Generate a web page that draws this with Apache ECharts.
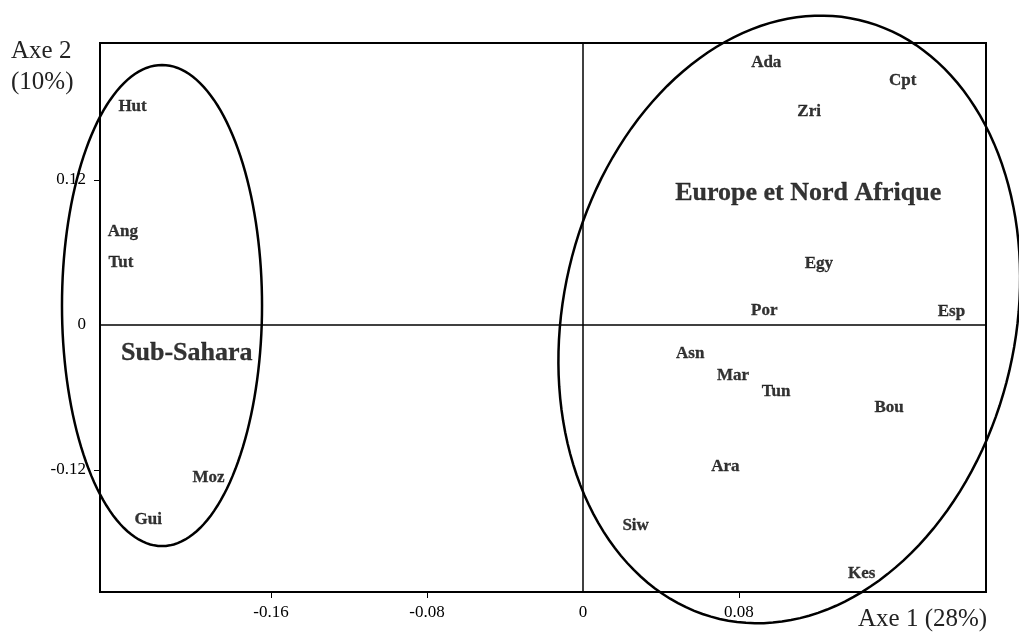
<!DOCTYPE html>
<html>
<head>
<meta charset="utf-8">
<script src="https://cdn.jsdelivr.net/npm/echarts@6/dist/echarts.min.js"></script>
<style>
  html, body { margin: 0; padding: 0; background: #fff; }
  #chart { width: 1019px; height: 634px; }
</style>
</head>
<body>
<div id="chart"></div>
<script>
// populations, coordinates on axes 1 and 2
var sites = ['Hut', 'Ang', 'Tut', 'Moz', 'Gui', 'Ada', 'Cpt', 'Zri', 'Egy', 'Por', 'Esp',
             'Asn', 'Mar', 'Tun', 'Bou', 'Ara', 'Siw', 'Kes'];
var axe1 = [-0.231, -0.236, -0.237, -0.192, -0.223, 0.094, 0.164, 0.116, 0.121, 0.093, 0.189,
            0.055, 0.077, 0.099, 0.157, 0.073, 0.027, 0.143];
var axe2 = [0.181, 0.077, 0.052, -0.126, -0.161, 0.217, 0.202, 0.177, 0.051, 0.012, 0.011,
            -0.024, -0.042, -0.055, -0.068, -0.117, -0.166, -0.206];

// group names
var groups = ['Europe et Nord Afrique', 'Sub-Sahara'];
var groupX = [0.1155, -0.2032];
var groupY = [0.109, -0.0234];

// group ellipses: centre x, centre y, half width, half height (data units), tilt (deg)
var ellCx = [-0.2159, 0.1058];
var ellCy = [0.0161, 0.0046];
var ellRx = [0.0513, 0.1159];
var ellRy = [0.1991, 0.2545];
var ellTilt = [0, 13.1];

var xTicks = [-0.16, -0.08, 0.08];
var xLabels = [-0.16, -0.08, 0, 0.08];
var yTicks = [-0.12, 0.12];
var yLabels = [-0.12, 0, 0.12];

var serif = "'Liberation Serif', 'DejaVu Serif', serif";

var chart = echarts.init(document.getElementById('chart'));

var points = sites.map(function (s, i) { return [axe1[i], axe2[i], s]; });
var groupPts = groups.map(function (g, i) { return [groupX[i], groupY[i], g]; });
var ellipses = ellCx.map(function (c, i) { return [c, ellCy[i], ellRx[i], ellRy[i], ellTilt[i]]; });

function fmt(v) { return v === 0 ? '0' : v.toFixed(2); }

var option = {
  backgroundColor: '#fff',
  animation: false,
  grid: {
    left: 100, right: 33, top: 43, bottom: 42,
    show: true, borderColor: '#000', borderWidth: 2, backgroundColor: 'transparent'
  },
  xAxis: {
    type: 'value', min: -0.2477, max: 0.2067,
    splitLine: { show: false },
    axisLine: { show: false, onZero: false },
    axisTick: { show: true, customValues: xTicks, length: 6, lineStyle: { color: '#000', width: 1 } },
    axisLabel: { customValues: xLabels, margin: 12, color: '#000', fontFamily: serif, fontSize: 17, formatter: fmt }
  },
  yAxis: {
    type: 'value', min: -0.221, max: 0.2334,
    splitLine: { show: false },
    axisLine: { show: false, onZero: false },
    axisTick: { show: true, customValues: yTicks, length: 6, lineStyle: { color: '#000', width: 1 } },
    axisLabel: { customValues: yLabels, margin: 14, color: '#000', fontFamily: serif, fontSize: 17, formatter: fmt }
  },
  graphic: [
    { type: 'text', left: 11, top: 36,
      style: { text: 'Axe 2\n(10%)', fontFamily: serif, fontSize: 25, lineHeight: 31, fill: '#222', align: 'center' } },
    { type: 'text', left: 858, top: 607,
      style: { text: 'Axe 1 (28%)', fontFamily: serif, fontSize: 25, fill: '#222' } }
  ],
  series: [
    {
      type: 'scatter',
      data: points,
      symbolSize: 1,
      itemStyle: { color: 'rgba(0,0,0,0)' },
      label: {
        show: true, position: 'inside', color: '#000',
        fontFamily: serif, fontWeight: 'bold', fontSize: 17,
        textBorderColor: '#000', textBorderWidth: 0.3,
        formatter: function (p) { return p.data[2]; }
      },
      markLine: {
        silent: true, symbol: 'none',
        label: { show: false },
        lineStyle: { color: '#000', width: 1.5, type: 'solid' },
        data: [{ xAxis: 0 }, { yAxis: 0 }]
      }
    },
    {
      type: 'scatter',
      data: groupPts,
      symbolSize: 1,
      itemStyle: { color: 'rgba(0,0,0,0)' },
      label: {
        show: true, position: 'inside', color: '#000',
        fontFamily: serif, fontWeight: 'bold', fontSize: 26,
        textBorderColor: '#000', textBorderWidth: 0.3,
        formatter: function (p) { return p.data[2]; }
      }
    },
    {
      type: 'custom',
      clip: false,
      silent: true,
      data: ellipses,
      renderItem: function (params, api) {
        var c = api.coord([api.value(0), api.value(1)]);
        var s = api.size([api.value(2), api.value(3)]);
        var rot = api.value(4) * Math.PI / 180;
        var pts = [];
        for (var i = 0; i <= 160; i++) {
          var t = i / 160 * 2 * Math.PI;
          var x = s[0] * Math.cos(t), y = s[1] * Math.sin(t);
          pts.push([c[0] + x * Math.cos(rot) - y * Math.sin(rot),
                    c[1] + x * Math.sin(rot) + y * Math.cos(rot)]);
        }
        return {
          type: 'polyline',
          shape: { points: pts },
          style: { fill: null, stroke: '#000', lineWidth: 2.5 }
        };
      }
    }
  ]
};

chart.setOption(option);
</script>
</body>
</html>
